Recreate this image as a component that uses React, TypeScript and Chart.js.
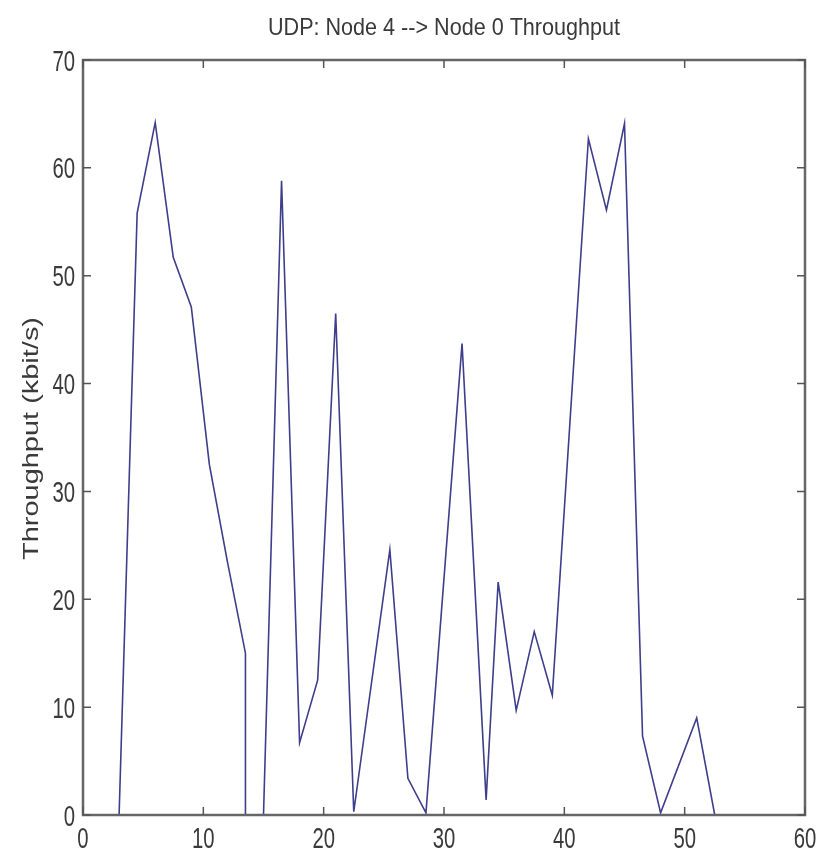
import React, { useEffect, useRef } from "react";
import { Chart, registerables } from "chart.js";

Chart.register(...registerables);

const TITLE = "UDP: Node 4 --> Node 0 Throughput";
const Y_LABEL = "Throughput (kbit/s)";

const timeValues = [
  3, 4.5, 6, 7.5, 9, 10.5, 12, 13.5, 13.5, 15, 16.5, 18, 19.5, 21, 22.5, 25.5,
  27, 28.5, 31.5, 33.5, 34.5, 36, 37.5, 39, 40.5, 42, 43.5, 45, 46.5, 48, 51,
  52.5,
];
const throughputValues = [
  0, 55.8, 64.2, 51.7, 47.1, 32.5, 23.5, 15, 0, 0, 58.8, 6.7, 12.5, 46.5, 0.3,
  24.6, 3.4, 0.2, 43.7, 1.4, 21.6, 9.7, 17.0, 11.1, 37, 62.7, 56.1, 64.1, 7.3,
  0.2, 9.0, 0,
];
const xTicks = [0, 10, 20, 30, 40, 50, 60];
const yTicks = [0, 10, 20, 30, 40, 50, 60, 70];

const FONT = '"Liberation Sans", Arial, sans-serif';
const TEXT_COLOR = "#3a3a3a";

function squeezedText(ctx: any, text: string, x: number, y: number, sx: number, sy: number) {
  ctx.save();
  ctx.translate(x, y);
  ctx.scale(sx, sy);
  ctx.fillText(text, 0, 0);
  ctx.restore();
}

const frame = {
  id: "matlabFrame",
  afterDraw(chart: any) {
    const { ctx, chartArea: a, scales } = chart;
    ctx.save();
    // box
    ctx.strokeStyle = "#666666";
    ctx.lineWidth = 2.5;
    ctx.strokeRect(a.left, a.top, a.right - a.left, a.bottom - a.top);
    // inward ticks
    ctx.lineWidth = 1.5;
    ctx.strokeStyle = "#555555";
    const tl = 8;
    ctx.beginPath();
    xTicks.forEach((v) => {
      const px = scales.x.getPixelForValue(v);
      ctx.moveTo(px, a.bottom);
      ctx.lineTo(px, a.bottom - tl);
      ctx.moveTo(px, a.top);
      ctx.lineTo(px, a.top + tl);
    });
    yTicks.forEach((v) => {
      const py = scales.y.getPixelForValue(v);
      ctx.moveTo(a.left, py);
      ctx.lineTo(a.left + tl, py);
      ctx.moveTo(a.right, py);
      ctx.lineTo(a.right - tl, py);
    });
    ctx.stroke();

    ctx.fillStyle = TEXT_COLOR;
    // tick labels (narrow, tall)
    ctx.font = `29px ${FONT}`;
    ctx.textBaseline = "alphabetic";
    ctx.textAlign = "center";
    xTicks.forEach((v) => {
      squeezedText(ctx, String(v), scales.x.getPixelForValue(v), a.bottom + 33, 0.7, 1);
    });
    ctx.textAlign = "right";
    yTicks.forEach((v) => {
      squeezedText(ctx, String(v), a.left - 8, scales.y.getPixelForValue(v) + 10.5, 0.7, 1);
    });

    // title
    ctx.font = `24px ${FONT}`;
    ctx.textAlign = "center";
    const tw = ctx.measureText(TITLE).width;
    squeezedText(ctx, TITLE, (a.left + a.right) / 2, 35, 352 / tw, 1);

    // y label (stretched along its length)
    ctx.font = `22px ${FONT}`;
    const w = ctx.measureText(Y_LABEL).width;
    ctx.translate(32, (a.top + a.bottom) / 2 + 1);
    ctx.rotate(-Math.PI / 2);
    ctx.scale(243 / w, 1);
    ctx.textAlign = "center";
    ctx.textBaseline = "middle";
    ctx.fillText(Y_LABEL, 0, 0);
    ctx.restore();
  },
};

export default function App() {
  const ref = useRef<HTMLCanvasElement | null>(null);
  useEffect(() => {
    if (!ref.current) return;
    const chart = new Chart(ref.current, {
      type: "line",
      data: {
        datasets: [
          {
            data: timeValues.map((x, i) => ({ x, y: throughputValues[i] })),
            borderColor: "rgb(62,62,140)",
            borderWidth: 1.6,
            pointRadius: 0,
            tension: 0,
            fill: false,
          },
        ],
      },
      options: {
        animation: false,
        responsive: false,
        devicePixelRatio: 1,
        layout: { padding: { top: 60, right: 16, left: 0, bottom: 0 } },
        plugins: {
          legend: { display: false },
          tooltip: { enabled: false },
          title: { display: false },
        },
        scales: {
          x: {
            type: "linear",
            min: 0,
            max: 60,
            afterBuildTicks: (s: any) => {
              s.ticks = xTicks.map((v) => ({ value: v }));
            },
            afterFit: (s: any) => {
              s.height = 35;
            },
            ticks: { display: false },
            grid: { display: false },
            border: { display: false },
          },
          y: {
            type: "linear",
            min: 0,
            max: 70,
            afterBuildTicks: (s: any) => {
              s.ticks = yTicks.map((v) => ({ value: v }));
            },
            afterFit: (s: any) => {
              s.width = 83;
            },
            ticks: { display: false },
            grid: { display: false },
            border: { display: false },
          },
        },
      },
      plugins: [frame],
    });
    return () => chart.destroy();
  }, []);
  return (
    <div style={{ position: "fixed", left: 0, top: 0, width: 821, height: 850, background: "#fff" }}>
      <canvas ref={ref} width={821} height={850} style={{ width: 821, height: 850, display: "block" }} />
    </div>
  );
}
